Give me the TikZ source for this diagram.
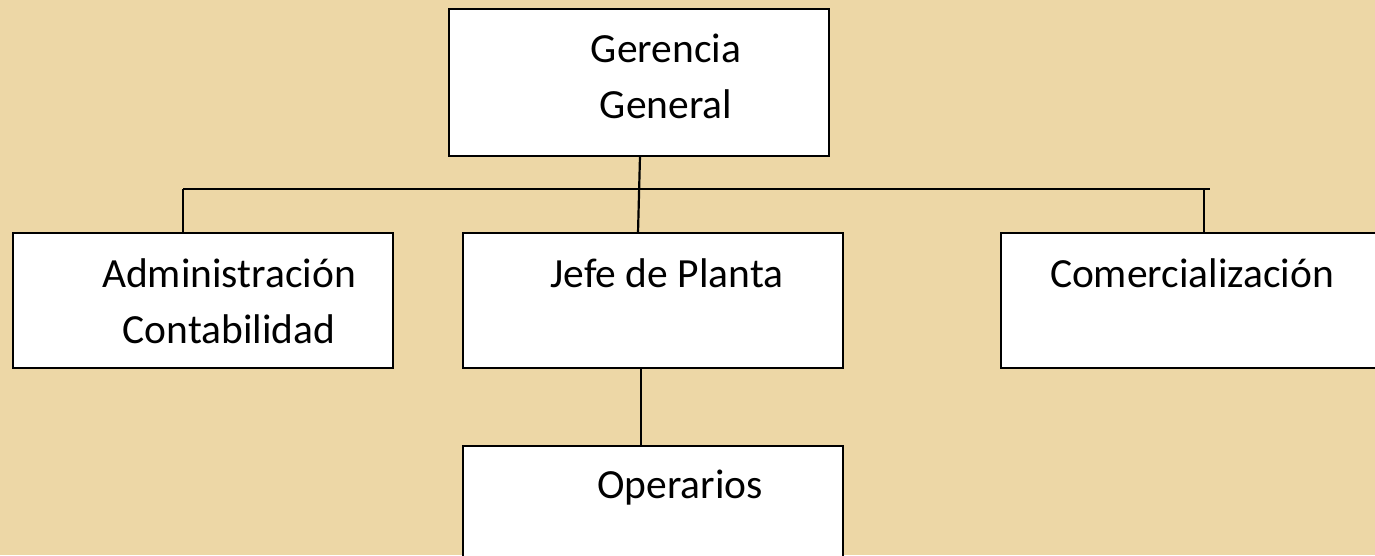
\documentclass[tikz,border=0pt]{standalone}
\usepackage{fontspec}
\setmainfont{Carlito}
\definecolor{parch}{RGB}{237,215,166}
\begin{document}
\begin{tikzpicture}[x=1pt,y=-1pt,
  orgbox/.style={draw=black, fill=white, line width=2.8pt, rectangle, inner sep=0pt, minimum width=380pt},
  lbl/.style={anchor=base, inner sep=0pt, font=\fontsize{41.5}{50}\selectfont, text=black},
  conn/.style={draw=black, line width=2.2pt}]
\useasboundingbox (0,0) rectangle (1375,555);
\fill[parch] (0,0) rectangle (1375,555);
\clip (0,0) rectangle (1375,555);
% boxes
\node[orgbox, minimum height=147pt] (ger) at (639,82.5) {};
\node[orgbox, minimum height=135pt] (adm) at (203,300.5) {};
\node[orgbox, minimum height=135pt] (jef) at (653,300.5) {};
\node[orgbox, minimum height=135pt] (com) at (1191,300.5) {};
\node[orgbox, minimum height=135pt] (ope) at (653,513.5) {};
% connectors
\coordinate (gb) at (640,156);
\coordinate (jt) at (638,233);
\coordinate (hl) at (183,189);
\coordinate (hr) at (1210,189);
\coordinate (ld) at (183,233);
\coordinate (rt) at (1204,189);
\coordinate (rd) at (1204,233);
\coordinate (jb) at (641,368);
\coordinate (ot) at (641,446);
\draw[conn] (hl) -- (hr);
\draw[conn] (hl) -- (ld);
\draw[conn] (rt) -- (rd);
\draw[conn] (gb) -- (jt);
\draw[conn] (jb) -- (ot);
% texts
\node[lbl] (t1) at (666,62) {Gerencia};
\node[lbl] (t2) at (666,118) {General};
\node[lbl] (t3) at (229,287) {Administración};
\node[lbl] (t4) at (229,343) {Contabilidad};
\node[lbl] (t5) at (667,287) {Jefe de Planta};
\node[lbl] (t6) at (1192,287) {Comercialización};
\node[lbl] (t7) at (680,498) {Operarios};
\end{tikzpicture}
\end{document}
